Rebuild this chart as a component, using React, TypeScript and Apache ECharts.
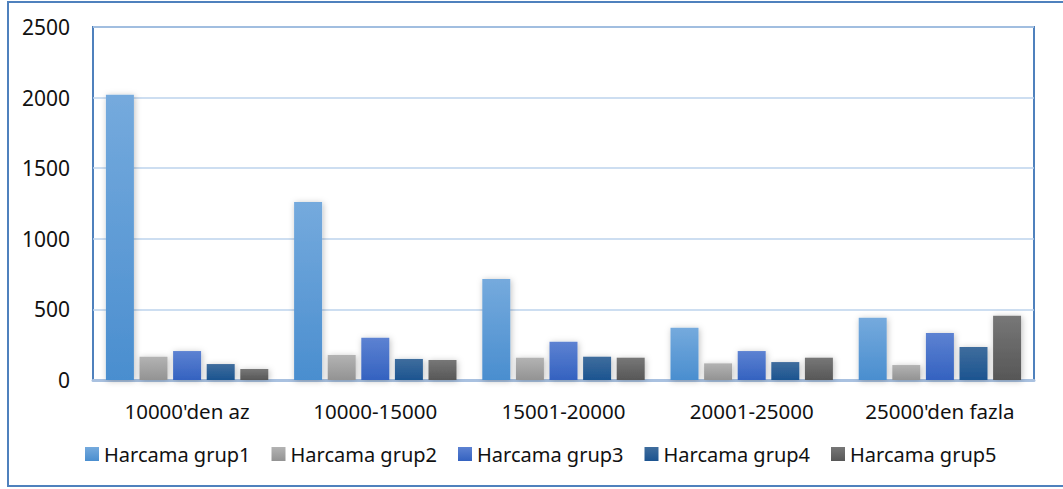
import React, { useEffect, useRef } from "react";
import * as echarts from "echarts";

const categories = ["10000'den az", "10000-15000", "15001-20000", "20001-25000", "25000'den fazla"];
const seriesNames = ["Harcama grup1", "Harcama grup2", "Harcama grup3", "Harcama grup4", "Harcama grup5"];
const grup1 = [2020, 1260, 715, 370, 441];
const grup2 = [165, 177, 158, 118, 106];
const grup3 = [205, 300, 271, 205, 333];
const grup4 = [113, 149, 165, 127, 234];
const grup5 = [78, 142, 158, 158, 455];
const yTicks = { min: 0, max: 2500, interval: 500 };

const seriesData = [grup1, grup2, grup3, grup4, grup5];
const gradients: [string, string][] = [
  ["#75aadd", "#4a8ecf"],
  ["#b3b3b3", "#939393"],
  ["#5d82d2", "#3462c0"],
  ["#3f6d9d", "#1c5490"],
  ["#777777", "#575757"],
];

const FONT = "'Noto Sans', sans-serif";

export default function App() {
  const ref = useRef<HTMLDivElement>(null);
  useEffect(() => {
    document.body.style.margin = "0";
    if (!ref.current) return;
    const chart = echarts.init(ref.current, undefined, { renderer: "svg" });
    chart.setOption({
      animation: false,
      backgroundColor: "#ffffff",
      textStyle: { fontFamily: FONT },
      graphic: [
        {
          type: "rect",
          shape: { x: 8, y: 2, width: 1065, height: 484 },
          style: { fill: "none", stroke: "#4f81bd", lineWidth: 2 },
          z: 100,
          silent: true,
        },
      ],
      grid: {
        left: 93,
        top: 27,
        right: 29,
        bottom: 109,
        show: true,
        borderColor: "#4f81bd",
        borderWidth: 2,
      },
      legend: {
        data: seriesNames,
        left: 80,
        top: 439,
        itemWidth: 14,
        itemHeight: 14,
        itemGap: 21,
        icon: "rect",
        textStyle: { fontFamily: FONT, fontSize: 20, color: "#111" },
      },
      xAxis: {
        type: "category",
        data: categories,
        axisLine: { show: true, lineStyle: { color: "#a9c1e0", width: 3 } },
        axisTick: { show: false },
        axisLabel: { fontFamily: FONT, fontSize: 20.5, color: "#111", margin: 20, interval: 0 },
      },
      yAxis: {
        type: "value",
        min: yTicks.min,
        max: yTicks.max,
        interval: yTicks.interval,
        axisLine: { show: false },
        axisTick: { show: false },
        axisLabel: {
          fontFamily: FONT,
          fontSize: 21,
          color: "#111",
          margin: 23,
          formatter: (v: number) => String(v),
        },
        splitLine: { lineStyle: { color: "#bcd3ec", width: 1.5 } },
      },
      series: seriesNames.map((name, i) => ({
        name,
        type: "bar",
        data: seriesData[i],
        barWidth: 28,
        barGap: "20%",
        itemStyle: {
          color: new echarts.graphic.LinearGradient(0, 0, 0, 1, [
            { offset: 0, color: gradients[i][0] },
            { offset: 1, color: gradients[i][1] },
          ]),
          shadowBlur: 6,
          shadowColor: "rgba(0,0,0,0.25)",
          shadowOffsetX: 1,
          shadowOffsetY: 1,
        },
      })),
    });
    return () => chart.dispose();
  }, []);
  return <div ref={ref} style={{ width: 1063, height: 489 }} />;
}
